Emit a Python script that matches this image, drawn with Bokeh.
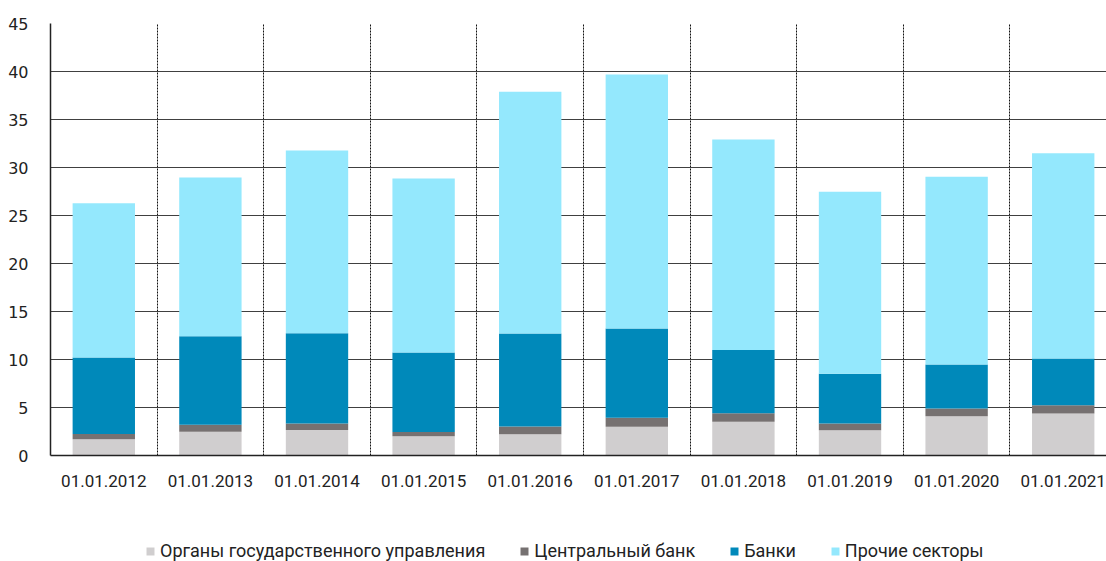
from bokeh.plotting import figure
from bokeh.layouts import column
from bokeh.models import FixedTicker, Range1d, Legend, LegendItem, ColumnDataSource
from bokeh.embed import file_html
from bokeh.resources import INLINE

dates = ["01.01.2012", "01.01.2013", "01.01.2014", "01.01.2015", "01.01.2016",
         "01.01.2017", "01.01.2018", "01.01.2019", "01.01.2020", "01.01.2021"]
gov = [1.69, 2.48, 2.66, 2.00, 2.21, 3.00, 3.52, 2.62, 4.10, 4.38]
cbank = [0.55, 0.73, 0.68, 0.45, 0.82, 0.93, 0.89, 0.72, 0.80, 0.86]
banks = [7.96, 9.21, 9.39, 8.28, 9.68, 9.30, 6.59, 5.17, 4.58, 4.86]
other = [16.08, 16.54, 19.04, 18.12, 25.17, 26.46, 21.92, 18.96, 19.55, 21.39]

series = ["gov", "cbank", "banks", "other"]
labels = ["Органы государственного управления", "Центральный банк", "Банки", "Прочие секторы"]
colors = ["#D0CECF", "#767171", "#0089BA", "#94E8FD"]

xs = list(range(len(dates)))
src = ColumnDataSource(dict(x=xs, gov=gov, cbank=cbank, banks=banks, other=other))

FONT = "Roboto"
YFONT = "DejaVu Sans"

p = figure(width=1106, height=495, output_backend="svg", toolbar_location=None,
           x_range=Range1d(-0.5, 9.406), y_range=Range1d(0, 45),
           min_border_left=50, min_border_right=0, min_border_top=23, min_border_bottom=40)

renderers = p.vbar_stack(series, x="x", width=0.585, color=colors, source=src, line_width=0)

p.outline_line_color = None

# y axis
p.yaxis.ticker = FixedTicker(ticks=list(range(0, 50, 5)))
p.yaxis.major_tick_line_color = None
p.yaxis.minor_tick_line_color = None
p.yaxis.axis_line_color = "#222222"
p.yaxis.axis_line_width = 1.5
p.yaxis.major_label_standoff = 16
p.yaxis.major_label_text_font = YFONT
p.yaxis.major_label_text_font_size = "16px"
p.yaxis.major_label_text_color = "#222222"

# x axis
p.xaxis.ticker = FixedTicker(ticks=xs)
p.xaxis.major_label_overrides = {i: d for i, d in enumerate(dates)}
p.xaxis.major_tick_line_color = None
p.xaxis.minor_tick_line_color = None
p.xaxis.axis_line_color = "#222222"
p.xaxis.axis_line_width = 1.5
p.xaxis.major_label_standoff = 13
p.xaxis.major_label_text_font = FONT
p.xaxis.major_label_text_font_size = "17px"
p.xaxis.major_label_text_color = "#222222"

# grids
p.ygrid.ticker = FixedTicker(ticks=list(range(5, 50, 5)))
p.ygrid.grid_line_color = "#404040"
p.ygrid.grid_line_width = 1.2
p.xgrid.ticker = FixedTicker(ticks=[i + 0.5 for i in range(9)])
p.xgrid.grid_line_color = "#111111"
p.xgrid.grid_line_dash = "2 1"
p.xgrid.grid_line_width = 1

# legend strip: a second figure holding the legend, with swatch renderers of the same colours
lf = figure(width=1106, height=66, output_backend="svg", toolbar_location=None,
            x_range=Range1d(0, 1), y_range=Range1d(0, 1),
            x_axis_location=None, y_axis_location=None,
            min_border_left=0, min_border_right=0, min_border_top=0, min_border_bottom=0)
lf.grid.visible = False
lf.outline_line_color = None
swatches = [lf.vbar(x=[-5], top=[-4], bottom=[-5], width=0.5, color=c, line_width=0) for c in colors]

legend = Legend(items=[LegendItem(label=l, renderers=[r]) for l, r in zip(labels, swatches)],
                orientation="horizontal", location=(95, 0),
                glyph_width=10, glyph_height=10, label_standoff=5, spacing=34,
                padding=0, margin=0, border_line_color=None, background_fill_alpha=0,
                label_text_font=FONT, label_text_font_size="18px", label_text_color="#222222")
lf.add_layout(legend, "center")

layout = column(p, lf, spacing=0)
open("out.html", "w").write(file_html(layout, INLINE))
